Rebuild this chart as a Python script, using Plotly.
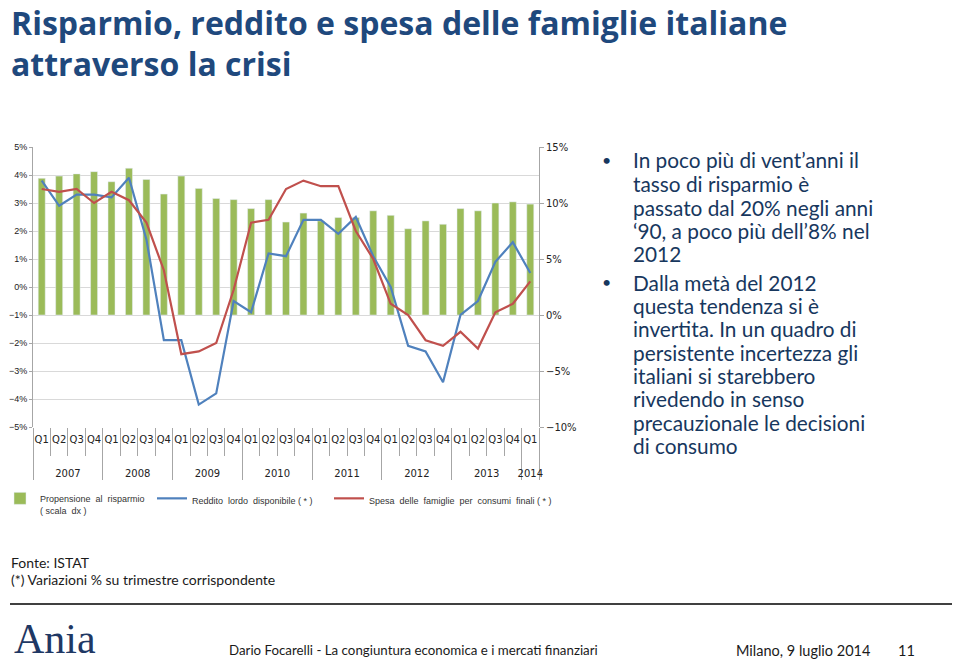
import plotly.graph_objects as go

years = ["2007"] * 4 + ["2008"] * 4 + ["2009"] * 4 + ["2010"] * 4 + ["2011"] * 4 + ["2012"] * 4 + ["2013"] * 4 + ["2014"]
quarters = ["Q1", "Q2", "Q3", "Q4"] * 7 + ["Q1"]

propensione = [12.2, 12.4, 12.6, 12.8, 11.9, 13.1, 12.1, 10.8, 12.4, 11.3, 10.4, 10.3,
               9.5, 10.3, 8.3, 9.1, 8.4, 8.7, 8.7, 9.3, 8.9, 7.7, 8.4, 8.1,
               9.5, 9.3, 10.0, 10.1, 9.9]
reddito = [3.8, 2.9, 3.3, 3.3, 3.2, 3.9, 1.7, -1.9, -1.9, -4.2, -3.8, -0.5,
           -0.9, 1.2, 1.1, 2.4, 2.4, 1.9, 2.5, 1.1, 0.0, -2.1, -2.3, -3.4,
           -1.0, -0.5, 0.9, 1.6, 0.5]
spesa = [3.5, 3.4, 3.5, 3.0, 3.4, 3.1, 2.3, 0.6, -2.4, -2.3, -2.0, -0.1,
         2.3, 2.4, 3.5, 3.8, 3.6, 3.6, 2.0, 1.0, -0.6, -1.0, -1.9, -2.1,
         -1.6, -2.2, -0.9, -0.6, 0.2]

legend_names = ["Propensione  al  risparmio<br>( scala  dx )",
                "Reddito  lordo  disponibile ( * )",
                "Spesa  delle  famiglie  per  consumi  finali ( * )"]

title_lines = ["Risparmio, reddito e spesa delle famiglie italiane", "attraverso la crisi"]
bullet_1 = ["In poco più di vent’anni il", "tasso di risparmio è", "passato dal 20% negli anni",
            "‘90, a poco più dell’8% nel", "2012"]
bullet_2 = ["Dalla metà del 2012", "questa tendenza si è", "invertita. In un quadro di",
            "persistente incertezza gli", "italiani si starebbero", "rivedendo in senso",
            "precauzionale le decisioni", "di consumo"]
footnotes = ["Fonte: ISTAT", "(*) Variazioni % su trimestre corrispondente"]
footer_center = "Dario Focarelli - La congiuntura economica e i mercati finanziari"
footer_right = "Milano, 9 luglio 2014"
page_no = "11"

# page is drawn with an 8px body margin: figure is 952x654 placed at (8, 8)
OFF = 8
W, H = 952, 654
# year labels are pushed down by two text lines so they sit well below the quarter labels
x = [["<br><br>" + y for y in years], quarters]


def px_x(v):
    return (v - OFF) / W


def px_y(v):
    return 1 - (v - OFF) / H


fig = go.Figure()
fig.add_trace(go.Bar(x=x, y=propensione, name=legend_names[0], marker_color="#9BBB59",
                     yaxis="y", legend="legend"))
fig.add_trace(go.Scatter(x=x, y=reddito, name=legend_names[1], mode="lines",
                         line=dict(color="#4F81BD", width=2.2), yaxis="y2", legend="legend2"))
fig.add_trace(go.Scatter(x=x, y=spesa, name=legend_names[2], mode="lines",
                         line=dict(color="#C0504D", width=2.2), yaxis="y2", legend="legend3"))

axis_font = dict(family="DejaVu Sans", size=10, color="#222222")
left_font = dict(family="Liberation Sans", size=9, color="#222222")
legend_font = dict(family="Liberation Sans", size=9, color="#333333")


def make_legend(text_x):
    return dict(orientation="h", x=px_x(text_x - 41), y=px_y(486), xanchor="left",
                yanchor="top", font=legend_font, itemwidth=30,
                bgcolor="rgba(0,0,0,0)", valign="top")


fig.update_layout(
    width=W, height=H,
    margin=dict(l=0, r=0, t=0, b=0, autoexpand=False),
    paper_bgcolor="white", plot_bgcolor="white",
    bargap=0.6,
    showlegend=True,
    legend=make_legend(41),
    legend2=make_legend(193),
    legend3=make_legend(370),
    xaxis=dict(type="multicategory", domain=[px_x(33), px_x(539)], showgrid=False,
               ticks="outside", tickson="boundaries", ticklen=28, tickcolor="#A6A6A6",
               showdividers=True, dividercolor="#A6A6A6", dividerwidth=1, tickangle=0,
               ticklabelstandoff=5,
               tickfont=axis_font, showline=False, automargin=False),
    yaxis=dict(side="right", range=[-10, 15], dtick=5, ticksuffix="%", showgrid=False,
               zeroline=False, showline=True, linecolor="#A6A6A6", ticks="outside",
               ticklen=4, tickcolor="#A6A6A6", tickfont=axis_font,
               domain=[px_y(427), px_y(147)], automargin=False),
    yaxis2=dict(side="left", overlaying="y", range=[-5, 5], dtick=1, ticksuffix="%",
                showgrid=True, gridcolor="#D9D9D9", gridwidth=1, zeroline=False,
                showline=True, linecolor="#A6A6A6", ticks="outside", ticklen=3,
                tickcolor="#A6A6A6", tickfont=left_font, automargin=False),
)

annotations = []
title_color = "#1F497D"
for t, yc in zip(title_lines, [22, 64]):
    annotations.append(dict(text="<b>" + t + "</b>", x=px_x(10), y=px_y(yc), xref="paper",
                            yref="paper", xanchor="left", yanchor="middle", showarrow=False,
                            borderpad=0,
                            font=dict(family="Open Sans", size=32, color=title_color)))

text_color = "#17375E"
ys1 = [160, 183.5, 207, 231, 254]
ys2 = [282, 305, 328, 352, 375, 398, 422, 445]
for lines, ys in [(bullet_1, ys1), (bullet_2, ys2)]:
    annotations.append(dict(text="•", x=px_x(606), y=px_y(ys[0] - 1), xref="paper", yref="paper",
                            xanchor="center", yanchor="middle", showarrow=False,
                            font=dict(family="Lato", size=16, color=text_color)))
    for t, yc in zip(lines, ys):
        annotations.append(dict(text=t, x=px_x(632), y=px_y(yc), xref="paper", yref="paper",
                                xanchor="left", yanchor="middle", showarrow=False, borderpad=0,
                                font=dict(family="Lato", size=20.8, color=text_color)))

for t, yc in zip(footnotes, [562, 579]):
    annotations.append(dict(text=t, x=px_x(10), y=px_y(yc), xref="paper", yref="paper",
                            xanchor="left", yanchor="middle", showarrow=False, borderpad=0,
                            font=dict(family="Lato", size=14, color="#1a1a1a")))

annotations.append(dict(text="Ania", x=px_x(12), y=px_y(639), xref="paper", yref="paper",
                        xanchor="left", yanchor="middle", showarrow=False,
                        font=dict(family="Liberation Serif", size=42, color="#1F3864")))
annotations.append(dict(text=footer_center, x=px_x(227), y=px_y(650), xref="paper", yref="paper",
                        xanchor="left", yanchor="middle", showarrow=False,
                        font=dict(family="Lato", size=13.3, color="#1a1a1a")))
annotations.append(dict(text=footer_right, x=px_x(734), y=px_y(650), xref="paper", yref="paper",
                        xanchor="left", yanchor="middle", showarrow=False,
                        font=dict(family="Lato", size=14.5, color="#1a1a1a")))
annotations.append(dict(text=page_no, x=px_x(896), y=px_y(650), xref="paper", yref="paper",
                        xanchor="left", yanchor="middle", showarrow=False,
                        font=dict(family="Lato", size=14.5, color="#1a1a1a")))

fig.update_layout(annotations=annotations)
fig.add_shape(type="line", xref="paper", yref="paper", x0=px_x(10), x1=px_x(955),
              y0=px_y(604), y1=px_y(604), line=dict(color="#404040", width=2))

fig.write_html("out.html")
